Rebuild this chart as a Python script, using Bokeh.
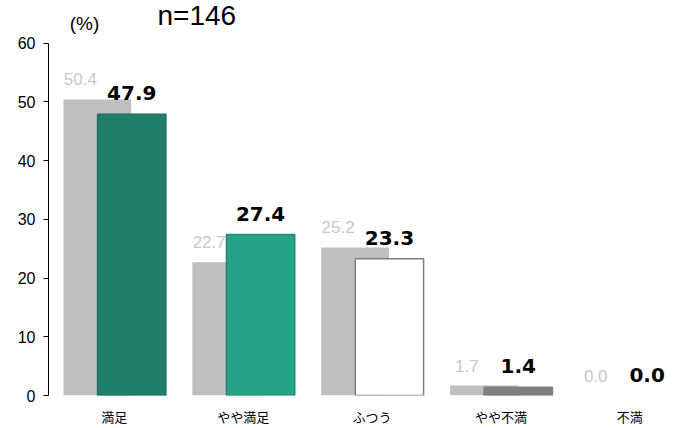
from bokeh.plotting import figure
from bokeh.models import ColumnDataSource, Range1d, FixedTicker, Label
from bokeh.transform import dodge
from bokeh.core.properties import value
from bokeh.embed import file_html
from bokeh.resources import INLINE

categories = ["満足", "やや満足", "ふつう", "やや不満", "不満"]
previous = [50.4, 22.7, 25.2, 1.7, 0.0]
current = [47.9, 27.4, 23.3, 1.4, 0.0]
y_ticks = [0, 10, 20, 30, 40, 50, 60]
sample_label = "n=146"
unit_label = "(%)"

fill_colors = ["#1f7f69", "#26a386", "#ffffff", "#7f7f7f", "#7f7f7f"]
line_colors = ["#1b715d", "#1f8c73", "#7f7f7f", "#7f7f7f", "#7f7f7f"]

idx = list(range(len(categories)))
src = ColumnDataSource(dict(
    x=idx,
    prev=previous,
    cur=current,
    prev_lbl=[f"{v:.1f}" for v in previous],
    cur_lbl=[f"{v:.1f}" for v in current],
    fill=fill_colors,
    line=line_colors,
    line_alpha=[1.0 if v > 0 else 0.0 for v in current],
))

p = figure(width=679, height=428, output_backend="svg", toolbar_location=None,
           x_range=Range1d(-0.511, 4.386), y_range=Range1d(0, 67.25),
           min_border_left=48, min_border_right=0, min_border_top=0,
           min_border_bottom=32)
p.outline_line_color = None
p.grid.visible = False
p.background_fill_color = "white"
p.border_fill_color = "white"

p.vbar(x=dodge("x", -0.132), top="prev", width=0.525, fill_color="#bfbfbf",
       line_color=None, source=src)
p.vbar(x=dodge("x", 0.135), top="cur", width=0.53, fill_color="fill",
       line_color="line", line_alpha="line_alpha", line_width=1.5, source=src)

p.text(x=dodge("x", -0.132), y="prev", text="prev_lbl", x_offset=-17, y_offset=-20,
       text_align="center", text_baseline="alphabetic",
       text_font=value("Liberation Sans"), text_font_size="17px",
       text_color="#c8c8c8", source=src)
p.text(x=dodge("x", 0.135), y="cur", text="cur_lbl", y_offset=-21,
       text_align="center", text_baseline="alphabetic",
       text_font=value("DejaVu Sans"), text_font_size="20px",
       text_font_style="bold", text_color="black", source=src)

p.add_layout(Label(x=0.335, y=64.7, text=sample_label, text_align="left",
                   text_baseline="alphabetic", text_font="Liberation Sans",
                   text_font_size="28px", text_color="black"))
p.add_layout(Label(x=-0.232, y=63.3, text=unit_label, text_align="center",
                   text_baseline="alphabetic", text_font="Liberation Sans",
                   text_font_size="19px", text_color="black"))

ya = p.yaxis[0]
ya.ticker = FixedTicker(ticks=y_ticks)
ya.bounds = (0, 60)
ya.major_tick_out = 5
ya.major_tick_in = 0
ya.minor_tick_line_color = None
ya.axis_line_color = "black"
ya.major_tick_line_color = "black"
ya.major_label_standoff = 8
ya.major_label_text_font = "Liberation Sans"
ya.major_label_text_font_size = "16px"
ya.major_label_text_color = "black"

xa = p.xaxis[0]
xa.ticker = FixedTicker(ticks=idx)
xa.major_label_overrides = {i: c for i, c in zip(idx, categories)}
xa.axis_line_color = None
xa.major_tick_line_color = None
xa.minor_tick_line_color = None
xa.major_tick_out = 0
xa.major_label_standoff = 11
xa.major_label_text_font = "Noto Sans CJK JP"
xa.major_label_text_font_size = "13px"
xa.major_label_text_color = "black"

open("out.html", "w").write(file_html(p, INLINE))
